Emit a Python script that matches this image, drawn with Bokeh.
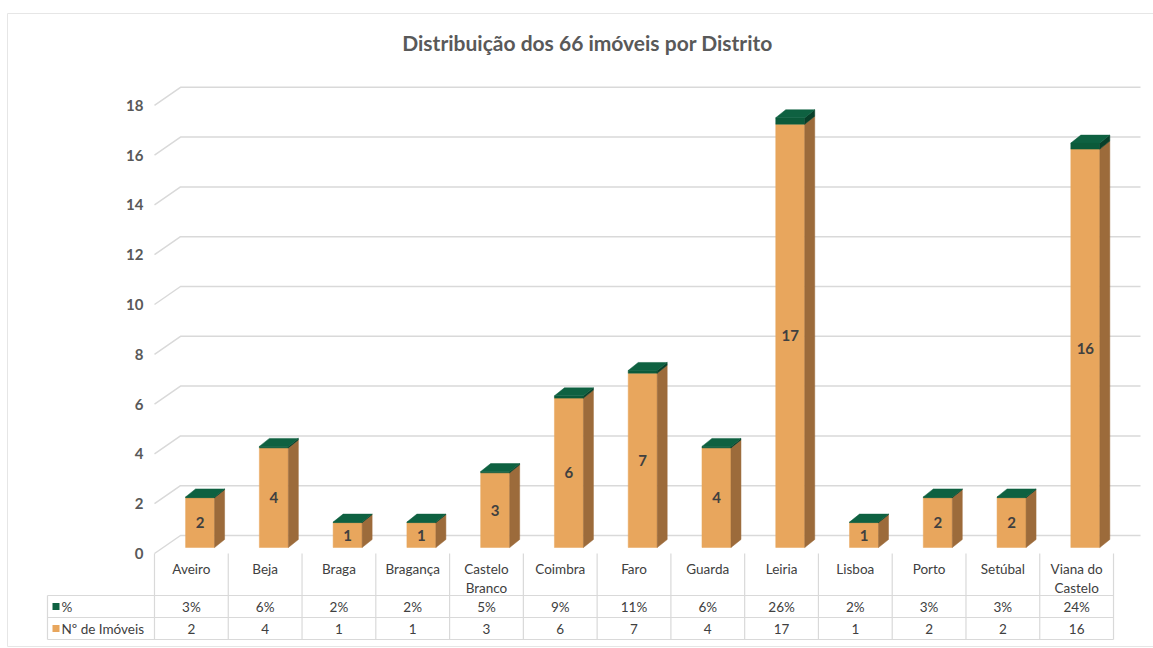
from bokeh.plotting import figure
from bokeh.models import Range1d
from bokeh.embed import file_html
from bokeh.resources import INLINE
from bokeh.core.properties import value

# ---------------- data ----------------
title = "Distribuição dos 66 imóveis por Distrito"
districts = ["Aveiro", "Beja", "Braga", "Bragança", "Castelo\nBranco", "Coimbra", "Faro",
             "Guarda", "Leiria", "Lisboa", "Porto", "Setúbal", "Viana do\nCastelo"]
imoveis = [2, 4, 1, 1, 3, 6, 7, 4, 17, 1, 2, 2, 16]
pct = [3, 6, 2, 2, 5, 9, 11, 6, 26, 2, 3, 3, 24]
y_ticks = [0, 2, 4, 6, 8, 10, 12, 14, 16, 18]
series_names = ["%", "Nº de Imóveis"]

# ---------------- geometry helpers (pixel -> data) ----------------
W, H = 1153, 648
COL0, COLW = 154.0, 73.77   # left edge of first table column, column width (px)
Y0, SY = 553.0, 24.9        # front-plane zero line (px), px per unit


def X(px):
    return (px - COL0) / COLW - 0.5


def Y(py):
    return (Y0 - py) / SY


FONT = value("Lato")
GRID = "#D9D9D9"
TXT = "#404040"
ORANGE, ORANGE_SIDE = "#E8A65D", "#9C6B3B"
GREEN_FRONT, GREEN_SIDE, GREEN_TOP = "#0C5A3A", "#083F29", "#0E6141"

p = figure(width=W, height=H, x_range=Range1d(X(0), X(W)), y_range=Range1d(Y(H), Y(0)),
           output_backend="svg", toolbar_location=None, min_border=0,
           x_axis_location=None, y_axis_location=None)
p.outline_line_color = None
p.xgrid.visible = False
p.ygrid.visible = False
p.background_fill_color = "white"
p.border_fill_color = "white"

# chart-area border
p.multi_line(xs=[[X(7), X(7)], [X(7), X(W)], [X(7), X(W)]],
             ys=[[Y(13), Y(646)], [Y(13), Y(13)], [Y(646), Y(646)]],
             line_color="#E6E6E6", line_width=1)

# title
p.text(x=[X(587)], y=[Y(42)], text=[title], text_font=FONT, text_font_size="21px",
       text_font_style="bold", text_color="#595959", text_align="center", text_baseline="middle")

# 3D offsets (data units)
kx, ky = 26 / COLW, 18 / SY      # back wall
bx, by = 8.7 / COLW, 6 / SY      # bar plane
hw = 14.5 / COLW                 # bar half width
ddx, ddy = 10 / COLW, 8 / SY     # bar depth

# gridlines (floor diagonal + back wall)
gx, gy = [], []
for v in y_ticks:
    gx.append([-0.5, -0.5 + kx, X(1140)])
    gy.append([v, v + ky, v + ky])
p.multi_line(xs=gx, ys=gy, line_color=GRID, line_width=1.5)

# y tick labels
p.text(x=[X(143)] * len(y_ticks), y=y_ticks, text=[str(v) for v in y_ticks], text_font=FONT,
       text_font_size="15px", text_font_style="bold", text_color="#595959",
       text_align="right", text_baseline="middle")

# bars
of_x, of_y, os_x, os_y = [], [], [], []
gf_x, gf_y, gs_x, gs_y, gt_x, gt_y = [], [], [], [], [], []
lab_x, lab_y = [], []
for i, (n, pc) in enumerate(zip(imoveis, pct)):
    cx = i + bx
    base = by
    xl, xr = cx - hw, cx + hw
    ot = base + n
    gt = ot + pc / 100.0
    of_x.append([xl, xr, xr, xl]); of_y.append([base, base, ot, ot])
    os_x.append([xr, xr + ddx, xr + ddx, xr]); os_y.append([base, base + ddy, ot + ddy, ot])
    gf_x.append([xl, xr, xr, xl]); gf_y.append([ot, ot, gt, gt])
    gs_x.append([xr, xr + ddx, xr + ddx, xr]); gs_y.append([ot, ot + ddy, gt + ddy, gt])
    gt_x.append([xl, xr, xr + ddx, xl + ddx]); gt_y.append([gt, gt, gt + ddy, gt + ddy])
    lab_x.append(cx); lab_y.append(base + n / 2.0)

p.patches(xs=of_x, ys=of_y, fill_color=ORANGE, line_color=ORANGE, line_width=0.5)
p.patches(xs=os_x, ys=os_y, fill_color=ORANGE_SIDE, line_color=ORANGE_SIDE, line_width=0.5)
p.patches(xs=gf_x, ys=gf_y, fill_color=GREEN_FRONT, line_color=GREEN_FRONT, line_width=0.5)
p.patches(xs=gs_x, ys=gs_y, fill_color=GREEN_SIDE, line_color=GREEN_SIDE, line_width=0.5)
p.patches(xs=gt_x, ys=gt_y, fill_color=GREEN_TOP, line_color=GREEN_TOP, line_width=0.5)

p.text(x=lab_x, y=lab_y, text=[str(n) for n in imoveis], text_font=FONT, text_font_size="15px",
       text_font_style="bold", text_color=TXT, text_align="center", text_baseline="middle")

# data table
ncat = len(districts)
tx, ty = [], []
for k in range(ncat + 1):
    tx.append([k - 0.5, k - 0.5]); ty.append([0, Y(639)])
tx.append([X(47), X(47)]); ty.append([Y(595), Y(639)])
for py in (595, 617, 639):
    tx.append([X(47), ncat - 0.5]); ty.append([Y(py), Y(py)])
p.multi_line(xs=tx, ys=ty, line_color=GRID, line_width=1.2)

cats = list(range(ncat))
p.text(x=cats, y=[Y(560)] * ncat, text=districts, text_font=FONT, text_font_size="13.5px",
       text_color=TXT, text_align="center", text_baseline="top", text_line_height=1.2)
p.text(x=cats, y=[Y(606)] * ncat, text=[f"{v}%" for v in pct], text_font=FONT,
       text_font_size="13.5px", text_color=TXT, text_align="center", text_baseline="middle")
p.text(x=cats, y=[Y(628)] * ncat, text=[str(v) for v in imoveis], text_font=FONT,
       text_font_size="13.5px", text_color=TXT, text_align="center", text_baseline="middle")

# legend keys in table
p.scatter(x=[X(55.5), X(55.5)], y=[Y(606), Y(628)], marker="square", size=7,
          fill_color=[GREEN_TOP, ORANGE], line_color=None)
p.text(x=[X(61), X(61)], y=[Y(606), Y(628)], text=series_names, text_font=FONT,
       text_font_size="13.5px", text_color=TXT, text_align="left", text_baseline="middle")

open("out.html", "w").write(file_html(p, INLINE))
